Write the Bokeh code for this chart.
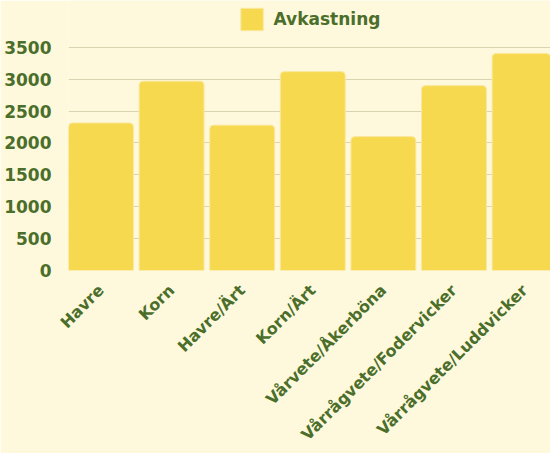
from math import pi
from bokeh.plotting import figure
from bokeh.models import Range1d, FixedTicker, Legend, LegendItem, ColumnDataSource
from bokeh.embed import file_html
from bokeh.resources import INLINE

categories = ["Havre", "Korn", "Havre/Ärt", "Korn/Ärt", "Vårvete/Åkerböna",
              "Vårrågvete/Fodervicker", "Vårrågvete/Luddvicker"]
avkastning = [2315, 2970, 2280, 3120, 2100, 2900, 3405]
y_ticks = [0, 500, 1000, 1500, 2000, 2500, 3000, 3500]

BG = "#fef9dc"
BAR = "#f6d94f"
TXT = "#4b6e2b"
GRID = "#d8d4b2"
FONT = "DejaVu Sans"

xs = list(range(len(categories)))
src = ColumnDataSource(dict(x=xs, top=avkastning))

p = figure(width=550, height=453, output_backend="svg", toolbar_location=None,
           x_range=Range1d(-0.46, 6.367), y_range=Range1d(0, 4235),
           min_border_left=68, min_border_right=0, min_border_top=0, min_border_bottom=0)
p.background_fill_color = BG
p.border_fill_color = BG
p.outline_line_color = None

r = p.vbar(x="x", top="top", bottom=0, width=0.92, source=src,
           fill_color=BAR, line_color="#fbe8a0", line_width=1,
           border_radius=(4, 4, 0, 0))

p.xgrid.grid_line_color = None
p.ygrid.grid_line_color = GRID
p.ygrid.grid_line_width = 1

p.yaxis.ticker = FixedTicker(ticks=y_ticks)
p.yaxis.axis_line_color = None
p.yaxis.major_tick_line_color = None
p.yaxis.minor_tick_line_color = None
p.yaxis.major_tick_out = 0
p.yaxis.major_label_standoff = 17
p.yaxis.major_label_text_font = FONT
p.yaxis.major_label_text_font_style = "bold"
p.yaxis.major_label_text_font_size = "17px"
p.yaxis.major_label_text_color = TXT

p.xaxis.ticker = FixedTicker(ticks=xs)
p.xaxis.major_label_overrides = {i: c for i, c in enumerate(categories)}
p.xaxis.major_label_orientation = pi / 4
p.xaxis.axis_line_color = None
p.xaxis.major_tick_line_color = None
p.xaxis.minor_tick_line_color = None
p.xaxis.major_tick_out = 0
p.xaxis.major_label_standoff = 17
p.xaxis.major_label_text_font = FONT
p.xaxis.major_label_text_font_style = "bold"
p.xaxis.major_label_text_font_size = "16px"
p.xaxis.major_label_text_color = TXT

legend = Legend(items=[LegendItem(label="Avkastning", renderers=[r])],
                location="top_center", orientation="horizontal",
                glyph_width=28, glyph_height=28, label_standoff=8,
                margin=5, padding=0, spacing=0,
                background_fill_alpha=0, border_line_color=None,
                label_text_font=FONT, label_text_font_style="bold",
                label_text_font_size="17px", label_text_color=TXT)
p.add_layout(legend, "center")

open("out.html", "w").write(file_html(p, INLINE))
